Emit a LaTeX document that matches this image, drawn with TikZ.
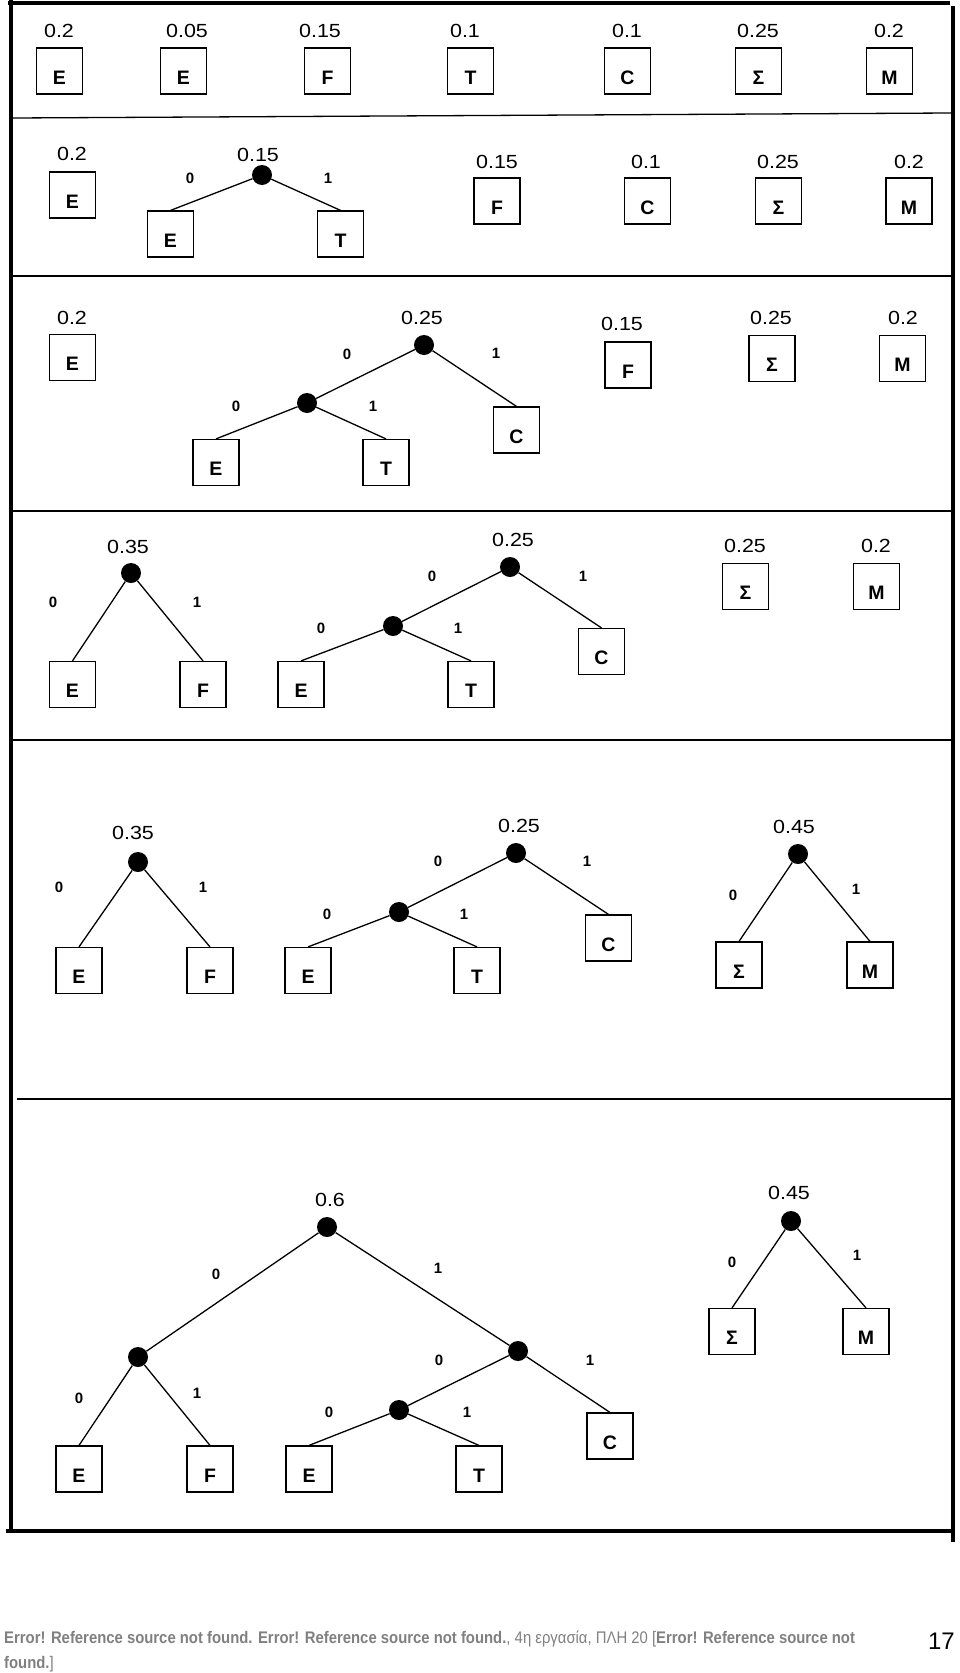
\documentclass[tikz,border=0pt]{standalone}
\usepackage{fontspec}
\setmainfont{Liberation Sans}
\newfontfamily\probfont[FakeStretch=1.13]{Liberation Sans}
\newfontfamily\footfont[FakeStretch=0.885]{Liberation Sans}
\usepackage{tikz}
\usetikzlibrary{positioning}
\definecolor{footgray}{HTML}{808080}

\begin{document}
\begin{tikzpicture}[x=1pt, y=-1pt,
  sym/.style={draw, line width=1.2pt, minimum width=46pt, minimum height=46pt, inner sep=0pt,
    text height=26pt, text depth=0pt, font=\fontsize{19.5}{20}\selectfont\bfseries},
  prob/.style={inner sep=0pt, font=\probfont\fontsize{19}{20}\selectfont},
  bit/.style={inner sep=0pt, font=\fontsize{15}{16}\selectfont\bfseries},
  knot/.style={circle, fill, minimum size=20pt, inner sep=0pt},
  link/.style={line width=1.3pt},
  divider/.style={line width=1.3pt},
  border/.style={line width=4pt}]
\useasboundingbox (0,0) rectangle (960,1673);
% frame and separators
\draw[border] (8,2.5) -- (950,2.5);
\draw[border] (11,0) -- (11,1533);
\draw[border] (953,6) -- (953,1542);
\draw[border] (6,1531) -- (955,1531);
\draw[divider] (13,118) -- (951,113);
\draw[divider] (13,276) -- (951,276);
\draw[divider] (13,511) -- (951,511);
\draw[divider] (13,740) -- (951,740);
\draw[divider] (17,1099) -- (951,1099);
% row 1
\node[prob] (p1a) at (59,31) {0.2};
\node[sym] (r1a) at (59.5,71) {E};
\node[prob] (p1b) at (187,31) {0.05};
\node[sym] (r1b) at (183.5,71) {E};
\node[prob] (p1c) at (320,31) {0.15};
\node[sym] (r1c) at (327.5,71) {F};
\node[prob] (p1d) at (465,31) {0.1};
\node[sym] (r1d) at (470.5,71) {T};
\node[prob] (p1e) at (627,31) {0.1};
\node[sym] (r1e) at (627.5,71) {C};
\node[prob] (p1f) at (758,31) {0.25};
\node[sym] (r1f) at (758.5,71) {Σ};
\node[prob] (p1g) at (889,31) {0.2};
\node[sym] (r1g) at (889.5,71) {M};
% row 2
\node[prob] (p2a) at (72,154) {0.2};
\node[sym] (r2a) at (72.5,195) {E};
\node[knot] (r2n) at (262,175) {};
\node[prob] (p2n) at (258,155) {0.15};
\node[bit] (b2n0) at (190,178) {0};
\node[bit] (b2n1) at (328,178) {1};
\node[sym] (r2e) at (170.5,234) {E};
\node[sym] (r2t) at (340.5,234) {T};
\draw[link] (r2n) -- (r2e.north);
\draw[link] (r2n) -- (r2t.north);
\node[prob] (p2f) at (497,162) {0.15};
\node[sym] (r2f) at (497,201) {F};
\node[prob] (p2c) at (646,162) {0.1};
\node[sym] (r2c) at (647.5,201) {C};
\node[prob] (p2s) at (778,162) {0.25};
\node[sym] (r2s) at (778.5,201) {Σ};
\node[prob] (p2m) at (909,162) {0.2};
\node[sym] (r2m) at (909,201) {M};
% row 3
\node[prob] (p3a) at (72,318) {0.2};
\node[sym] (r3a) at (72.5,357.5) {E};
\node[knot] (r3n) at (424,345) {};
\node[prob] (p3n) at (422,318) {0.25};
\node[bit] (b3n0) at (347,354) {0};
\node[bit] (b3n1) at (496,353) {1};
\node[knot] (r3m) at (307,403) {};
\node[bit] (b3m0) at (236,406) {0};
\node[bit] (b3m1) at (373,406) {1};
\node[sym] (r3e) at (216,462.5) {E};
\node[sym] (r3t) at (386,462.5) {T};
\node[sym] (r3c) at (516.5,430) {C};
\draw[link] (r3n) -- (r3m);
\draw[link] (r3n) -- (r3c.north);
\draw[link] (r3m) -- (r3e.north);
\draw[link] (r3m) -- (r3t.north);
\node[prob] (p3f) at (622,324) {0.15};
\node[sym] (r3f) at (628,365) {F};
\node[prob] (p3s) at (771,318) {0.25};
\node[sym] (r3s) at (772,358.5) {Σ};
\node[prob] (p3m) at (903,318) {0.2};
\node[sym] (r3m2) at (902.5,358.5) {M};
% row 4
\node[knot] (r4a) at (131,573) {};
\node[prob] (p4a) at (128,547) {0.35};
\node[bit] (b4a0) at (53,602) {0};
\node[bit] (b4a1) at (197,602) {1};
\node[sym] (r4e) at (72.5,684.5) {E};
\node[sym] (r4f) at (203,684.5) {F};
\draw[link] (r4a) -- (r4e.north);
\draw[link] (r4a) -- (r4f.north);
\node[knot] (r4n) at (510,567) {};
\node[prob] (p4n) at (513,540) {0.25};
\node[bit] (b4n0) at (432,576) {0};
\node[bit] (b4n1) at (583,576) {1};
\node[knot] (r4m) at (393,626) {};
\node[bit] (b4m0) at (321,628) {0};
\node[bit] (b4m1) at (458,628) {1};
\node[sym] (r4e2) at (301,684.5) {E};
\node[sym] (r4t) at (471,684.5) {T};
\node[sym] (r4c) at (601.5,651.5) {C};
\draw[link] (r4n) -- (r4m);
\draw[link] (r4n) -- (r4c.north);
\draw[link] (r4m) -- (r4e2.north);
\draw[link] (r4m) -- (r4t.north);
\node[prob] (p4s) at (745,546) {0.25};
\node[sym] (r4s) at (745.5,586.5) {Σ};
\node[prob] (p4m) at (876,546) {0.2};
\node[sym] (r4m2) at (876.5,586.5) {M};
% row 5
\node[knot] (r5a) at (138,862) {};
\node[prob] (p5a) at (133,833) {0.35};
\node[bit] (b5a0) at (59,887) {0};
\node[bit] (b5a1) at (203,887) {1};
\node[sym] (r5e) at (79,970.5) {E};
\node[sym] (r5f) at (210,970.5) {F};
\draw[link] (r5a) -- (r5e.north);
\draw[link] (r5a) -- (r5f.north);
\node[knot] (r5n) at (516,853) {};
\node[prob] (p5n) at (519,826) {0.25};
\node[bit] (b5n0) at (438,861) {0};
\node[bit] (b5n1) at (587,861) {1};
\node[knot] (r5m) at (399,912) {};
\node[bit] (b5m0) at (327,914) {0};
\node[bit] (b5m1) at (464,914) {1};
\node[sym] (r5e2) at (308,970.5) {E};
\node[sym] (r5t) at (477,970.5) {T};
\node[sym] (r5c) at (608.5,938) {C};
\draw[link] (r5n) -- (r5m);
\draw[link] (r5n) -- (r5c.north);
\draw[link] (r5m) -- (r5e2.north);
\draw[link] (r5m) -- (r5t.north);
\node[knot] (r5k) at (798,854) {};
\node[prob] (p5k) at (794,827) {0.45};
\node[bit] (b5k0) at (733,895) {0};
\node[bit] (b5k1) at (856,889) {1};
\node[sym] (r5s) at (739,965) {Σ};
\node[sym] (r5m2) at (870,965) {M};
\draw[link] (r5k) -- (r5s.north);
\draw[link] (r5k) -- (r5m2.north);
% row 6
\node[knot] (r6r) at (327,1227) {};
\node[prob] (p6r) at (330,1200) {0.6};
\node[bit] (b6r0) at (216,1274) {0};
\node[bit] (b6r1) at (438,1268) {1};
\node[knot] (r6a) at (138,1357) {};
\node[bit] (b6a0) at (79,1398) {0};
\node[bit] (b6a1) at (197,1393) {1};
\node[sym] (r6e) at (79,1469) {E};
\node[sym] (r6f) at (210,1469) {F};
\node[knot] (r6n) at (518,1351) {};
\node[bit] (b6n0) at (439,1360) {0};
\node[bit] (b6n1) at (590,1360) {1};
\node[knot] (r6m) at (399,1410) {};
\node[bit] (b6m0) at (329,1412) {0};
\node[bit] (b6m1) at (467,1412) {1};
\node[sym] (r6e2) at (309,1469) {E};
\node[sym] (r6t) at (479,1469) {T};
\node[sym] (r6c) at (610,1436) {C};
\draw[link] (r6r) -- (r6a);
\draw[link] (r6r) -- (r6n);
\draw[link] (r6a) -- (r6e.north);
\draw[link] (r6a) -- (r6f.north);
\draw[link] (r6n) -- (r6m);
\draw[link] (r6n) -- (r6c.north);
\draw[link] (r6m) -- (r6e2.north);
\draw[link] (r6m) -- (r6t.north);
\node[knot] (r6k) at (791,1221) {};
\node[prob] (p6k) at (789,1193) {0.45};
\node[bit] (b6k0) at (732,1262) {0};
\node[bit] (b6k1) at (857,1255) {1};
\node[sym] (r6s) at (732,1331.5) {Σ};
\node[sym] (r6m2) at (866,1331.5) {M};
\draw[link] (r6k) -- (r6s.north);
\draw[link] (r6k) -- (r6m2.north);
% footer
\node[font=\footfont\fontsize{16.8}{25}\selectfont, text=footgray, anchor=north west, align=left, inner sep=0pt]
  (foot) at (4,1631) {\textbf{Error! Reference source not found. Error! Reference source not found.}, 4η εργασία, ΠΛΗ 20 [\textbf{Error! Reference source not}\\\textbf{found.}]};
\node[font=\fontsize{24}{24}\selectfont, anchor=base east, inner sep=0pt] (page) at (955,1649) {17};
\end{tikzpicture}
\end{document}
